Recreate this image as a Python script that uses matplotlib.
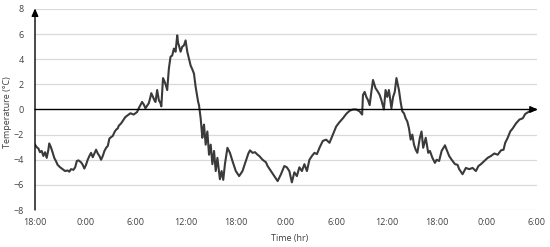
import matplotlib.pyplot as plt
import numpy as np

# hours since 18:00 on day 1, and temperature (deg C)
hours = [
    0.0, 0.2, 0.4, 0.6, 0.8, 1.0, 1.2, 1.4, 1.6, 1.7, 1.9, 2.1, 2.3, 2.5, 2.7,
    3.0, 3.3, 3.6, 3.9, 4.1, 4.3, 4.6, 4.8, 5.0, 5.2, 5.5, 5.7, 5.9, 6.1, 6.3,
    6.5, 6.7, 6.9, 7.1, 7.3, 7.5, 7.7, 7.9, 8.1, 8.3, 8.5, 8.7, 8.9, 9.1, 9.3,
    9.5, 9.7, 9.9,
    10.0, 10.3, 10.6, 10.8, 11.0, 11.2, 11.4, 11.6, 11.8, 12.0, 12.2, 12.4,
    12.6, 12.8, 13.0, 13.2, 13.4, 13.6, 13.8, 13.9, 14.1, 14.3, 14.4, 14.6,
    14.8, 15.0, 15.1, 15.3, 15.5, 15.7, 15.8, 16.0, 16.2, 16.4, 16.6, 16.8,
    17.0, 17.1, 17.2, 17.4, 17.6, 17.8, 18.0, 18.2, 18.4, 18.6, 18.8, 19.0,
    19.2, 19.3, 19.5, 19.6, 19.8, 19.9,
    20.0, 20.1, 20.2, 20.4, 20.6, 20.8, 21.0, 21.2, 21.4, 21.6, 21.8, 22.1,
    22.3, 22.5, 22.7, 23.0, 23.3, 23.6, 23.8, 24.0, 24.4, 24.8, 25.0, 25.2,
    25.5, 25.7, 26.0, 26.3, 26.6, 26.8, 27.0, 27.2, 27.4, 27.6, 27.8, 28.2,
    28.6, 29.0, 29.4, 29.8,
    30.1, 30.4, 30.7, 31.0, 31.3, 31.6, 31.9, 32.2, 32.5, 32.8, 33.1, 33.4,
    33.7, 34.0, 34.4, 34.8, 35.2, 35.6, 36.0, 36.4, 36.8, 37.2, 37.6, 38.0,
    38.4, 38.8, 39.1, 39.2, 39.4, 39.6, 39.8,
    40.0, 40.2, 40.4, 40.7, 41.0, 41.2, 41.4, 41.7, 41.9, 42.1, 42.3, 42.6,
    42.8, 43.0, 43.2, 43.5, 43.7, 43.9, 44.1, 44.3, 44.5, 44.7, 44.9, 45.1,
    45.3, 45.5, 45.7, 46.0, 46.2, 46.4, 46.7, 47.0, 47.2, 47.5, 47.8, 48.0,
    48.3, 48.6, 49.0, 49.2, 49.5, 49.8, 50.2,
    50.5, 50.7, 51.1, 51.5, 51.9, 52.3, 52.7, 53.0, 53.3, 53.7, 54.1, 54.5,
    54.9, 55.3, 55.7, 56.0, 56.2, 56.5, 56.8, 57.1, 57.5, 57.9, 58.3, 58.6,
    59.1, 59.5, 59.8,
]
temp = [
    -2.8, -3.0, -3.1, -3.4, -3.3, -3.7, -3.4, -3.85, -3.2, -2.7, -3.0, -3.4,
    -3.85, -4.1, -4.4, -4.6, -4.75, -4.9, -4.85, -4.95, -4.75, -4.8, -4.6,
    -4.1, -4.05, -4.2, -4.4, -4.7, -4.4, -4.0, -3.7, -3.45, -3.8, -3.5, -3.2,
    -3.5, -3.7, -4.0, -3.7, -3.3, -3.05, -2.9, -2.3, -2.2, -2.1, -1.8, -1.6,
    -1.5,
    -1.3, -1.1, -0.8, -0.6, -0.5, -0.4, -0.3, -0.35, -0.4, -0.3, -0.2, 0.1,
    0.35, 0.6, 0.4, 0.1, 0.3, 0.5, 1.0, 1.3, 1.0, 0.7, 0.6, 1.55,
    0.75, 0.5, 0.25, 2.5, 2.2, 1.8, 1.55, 3.25, 4.2, 4.3, 4.85, 4.6,
    5.9, 5.3, 5.1, 4.6, 5.0, 5.1, 5.5, 4.6, 4.05, 3.5, 3.2, 2.85,
    1.8, 1.4, 0.6, 0.35, -0.7, -1.5,
    -2.25, -1.5, -1.2, -2.8, -1.75, -3.6, -2.8, -4.35, -3.3, -4.9, -3.85, -5.55,
    -4.9, -5.6, -4.35, -3.05, -3.45, -4.1, -4.5, -4.9, -5.3, -4.9, -4.5, -4.1,
    -3.5, -3.25, -3.45, -3.4, -3.6, -3.7, -3.85, -4.0, -4.1, -4.2, -4.5, -4.9,
    -5.3, -5.7, -5.15, -4.5,
    -4.6, -4.9, -5.8, -5.0, -5.3, -4.6, -4.9, -4.35, -4.9, -4.0, -3.7, -3.45,
    -3.55, -3.05, -2.5, -2.4, -2.65, -2.0, -1.35, -1.0, -0.7, -0.35, -0.1, 0.0,
    0.0, -0.15, -0.4, 1.15, 1.4, 1.0, 0.75,
    0.35, 1.4, 2.35, 1.7, 1.4, 1.15, 0.75, 0.0, 1.55, 1.0, 1.55, 0.1,
    1.0, 1.4, 2.5, 1.55, 0.6, -0.15, -0.3, -0.7, -0.95, -1.5, -2.4, -2.0,
    -2.8, -3.2, -3.45, -2.25, -1.75, -3.05, -2.25, -3.45, -3.3, -3.85, -4.25, -4.0,
    -4.1, -3.3, -2.85, -3.2, -3.7, -4.0, -4.35,
    -4.4, -4.75, -5.15, -4.65, -4.75, -4.65, -4.9, -4.5, -4.35, -4.1, -3.85, -3.7,
    -3.5, -3.6, -3.25, -3.2, -2.65, -2.25, -1.75, -1.5, -1.1, -0.8, -0.7, -0.35,
    -0.15, -0.05, 0.0,
]

tick_hours = [0, 6, 12, 18, 24, 30, 36, 42, 48, 54, 60]
tick_labels = ['18:00', '0:00', '6:00', '12:00', '18:00', '0:00', '6:00',
               '12:00', '18:00', '0:00', '6:00']
y_ticks = [-8, -6, -4, -2, 0, 2, 4, 6, 8]

plt.rcParams['font.family'] = ['Open Sans', 'DejaVu Sans']
txt = '#404040'

fig = plt.figure(figsize=(5.5, 2.47), dpi=100)
ax = fig.add_axes([35 / 550, 37 / 247, 502 / 550, 201 / 247])

for v in y_ticks:
    if v != 0:
        ax.axhline(v, color='#d9d9d9', lw=0.9, zorder=0)

ax.plot(hours, temp, color='#3a3a3a', lw=1.5, zorder=3)

ax.set_xlim(0, 60)
ax.set_ylim(-8, 8)
for s in ax.spines.values():
    s.set_visible(False)

# axes with arrow heads
ax.annotate('', xy=(0, 8.05), xytext=(0, -8), xycoords='data',
            arrowprops=dict(arrowstyle='-|>,head_length=0.45,head_width=0.2',
                            color='black', lw=1.0, shrinkA=0, shrinkB=0),
            annotation_clip=False, zorder=4)
ax.annotate('', xy=(60.1, 0), xytext=(0, 0), xycoords='data',
            arrowprops=dict(arrowstyle='-|>,head_length=0.45,head_width=0.2',
                            color='black', lw=1.0, shrinkA=0, shrinkB=0),
            annotation_clip=False, zorder=4)

ax.set_xticks(tick_hours)
ax.set_xticklabels(tick_labels)
ax.set_yticks(y_ticks)
ax.tick_params(length=0, labelsize=6.5, colors=txt)
ax.tick_params(axis='y', pad=8)
ax.tick_params(axis='x', pad=6)

fig.text(290 / 550, 9 / 247, 'Time (hr)', fontsize=6.5, color=txt,
         ha='center', va='center')
fig.text(8 / 550, 1 - 112 / 247, 'Temperature (°C)', fontsize=6.5, color=txt,
         ha='center', va='center', rotation=90)

fig.savefig('out.png', dpi=100)
